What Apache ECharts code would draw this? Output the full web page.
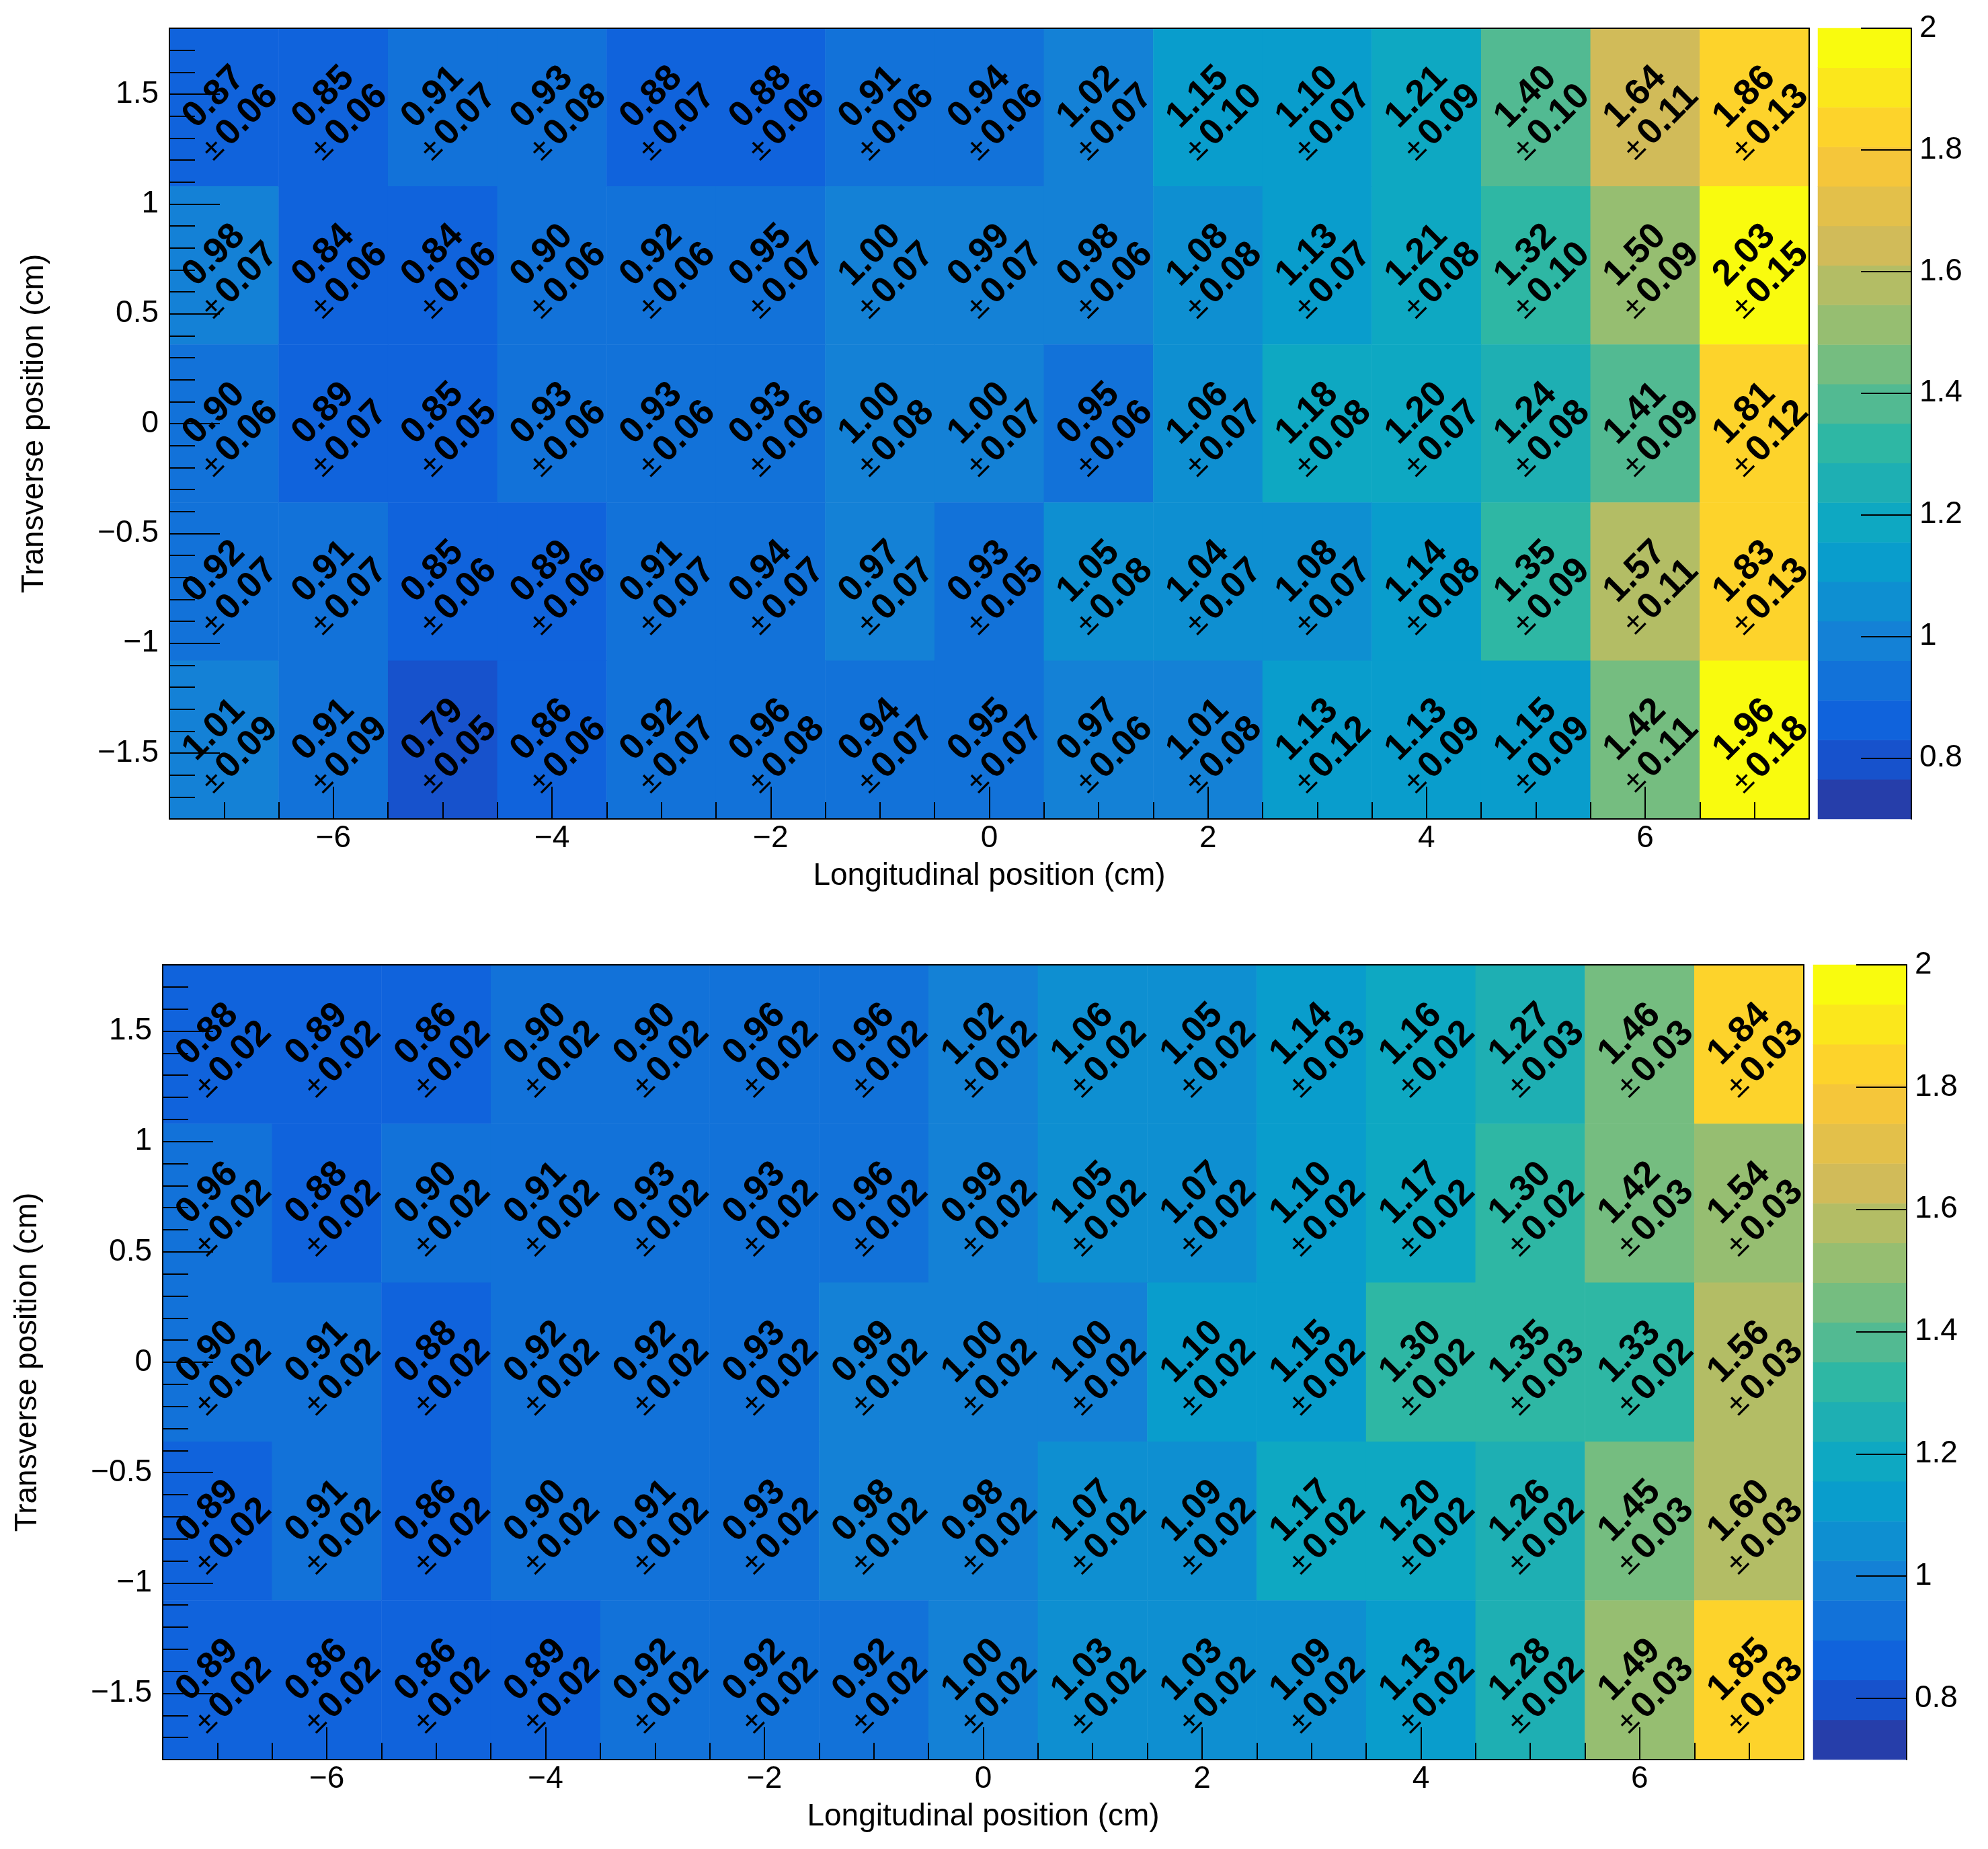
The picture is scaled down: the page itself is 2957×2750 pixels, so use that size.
<!DOCTYPE html>
<html>
<head>
<meta charset="utf-8">
<script src="https://cdn.jsdelivr.net/npm/echarts@6/dist/echarts.min.js"></script>
<style>
  html, body { margin: 0; padding: 0; background: #fff; }
  #chart { width: 2957px; height: 2750px; }
</style>
</head>
<body>
<div id="chart"></div>
<script>
// 网格：x -7.5..7.5 共15格，y -1.8..1.8 共5格
const xBins = ['-7', '-6', '-5', '-4', '-3', '-2', '-1', '0', '1', '2', '3', '4', '5', '6', '7'];
const yBins = ['-1.44', '-0.72', '0', '0.72', '1.44'];

// 上图 数值 / 误差（行从上到下：y=1.44 ... -1.44）
const topVal = [
    [0.87, 0.85, 0.91, 0.93, 0.88, 0.88, 0.91, 0.94, 1.02, 1.15, 1.10, 1.21, 1.40, 1.64, 1.86],
    [0.98, 0.84, 0.84, 0.90, 0.92, 0.95, 1.00, 0.99, 0.98, 1.08, 1.13, 1.21, 1.32, 1.50, 2.03],
    [0.90, 0.89, 0.85, 0.93, 0.93, 0.93, 1.00, 1.00, 0.95, 1.06, 1.18, 1.20, 1.24, 1.41, 1.81],
    [0.92, 0.91, 0.85, 0.89, 0.91, 0.94, 0.97, 0.93, 1.05, 1.04, 1.08, 1.14, 1.35, 1.57, 1.83],
    [1.01, 0.91, 0.79, 0.86, 0.92, 0.96, 0.94, 0.95, 0.97, 1.01, 1.13, 1.13, 1.15, 1.42, 1.96]
];
const topErr = [
    [0.06, 0.06, 0.07, 0.08, 0.07, 0.06, 0.06, 0.06, 0.07, 0.10, 0.07, 0.09, 0.10, 0.11, 0.13],
    [0.07, 0.06, 0.06, 0.06, 0.06, 0.07, 0.07, 0.07, 0.06, 0.08, 0.07, 0.08, 0.10, 0.09, 0.15],
    [0.06, 0.07, 0.05, 0.06, 0.06, 0.06, 0.08, 0.07, 0.06, 0.07, 0.08, 0.07, 0.08, 0.09, 0.12],
    [0.07, 0.07, 0.06, 0.06, 0.07, 0.07, 0.07, 0.05, 0.08, 0.07, 0.07, 0.08, 0.09, 0.11, 0.13],
    [0.09, 0.09, 0.05, 0.06, 0.07, 0.08, 0.07, 0.07, 0.06, 0.08, 0.12, 0.09, 0.09, 0.11, 0.18]
];
// 下图
const botVal = [
    [0.88, 0.89, 0.86, 0.90, 0.90, 0.96, 0.96, 1.02, 1.06, 1.05, 1.14, 1.16, 1.27, 1.46, 1.84],
    [0.96, 0.88, 0.90, 0.91, 0.93, 0.93, 0.96, 0.99, 1.05, 1.07, 1.10, 1.17, 1.30, 1.42, 1.54],
    [0.90, 0.91, 0.88, 0.92, 0.92, 0.93, 0.99, 1.00, 1.00, 1.10, 1.15, 1.30, 1.35, 1.33, 1.56],
    [0.89, 0.91, 0.86, 0.90, 0.91, 0.93, 0.98, 0.98, 1.07, 1.09, 1.17, 1.20, 1.26, 1.45, 1.60],
    [0.89, 0.86, 0.86, 0.89, 0.92, 0.92, 0.92, 1.00, 1.03, 1.03, 1.09, 1.13, 1.28, 1.49, 1.85]
];
const botErr = [
    [0.02, 0.02, 0.02, 0.02, 0.02, 0.02, 0.02, 0.02, 0.02, 0.02, 0.03, 0.02, 0.03, 0.03, 0.03],
    [0.02, 0.02, 0.02, 0.02, 0.02, 0.02, 0.02, 0.02, 0.02, 0.02, 0.02, 0.02, 0.02, 0.03, 0.03],
    [0.02, 0.02, 0.02, 0.02, 0.02, 0.02, 0.02, 0.02, 0.02, 0.02, 0.02, 0.02, 0.03, 0.02, 0.03],
    [0.02, 0.02, 0.02, 0.02, 0.02, 0.02, 0.02, 0.02, 0.02, 0.02, 0.02, 0.02, 0.02, 0.03, 0.03],
    [0.02, 0.02, 0.02, 0.02, 0.02, 0.02, 0.02, 0.02, 0.02, 0.02, 0.02, 0.02, 0.02, 0.03, 0.03]
];

const xMajorTicks = [-6, -4, -2, 0, 2, 4, 6];
const yMajorTicks = [-1.5, -1, -0.5, 0, 0.5, 1, 1.5];
const zTicks = [0.8, 1.0, 1.2, 1.4, 1.6, 1.8, 2.0];
const Z_MIN = 0.7, Z_MAX = 2.0, N_LEVELS = 20;

const xMinorTicks = [];
for (let i = 0; i <= 30; i++) xMinorTicks.push(-7.5 + i * 0.5);
const yMinorTicks = [];
for (let i = 0; i <= 36; i++) yMinorTicks.push(+(-1.8 + i * 0.1).toFixed(1));

// ROOT kBird 调色板
const birdStops = [0, 0.125, 0.25, 0.375, 0.5, 0.625, 0.75, 0.875, 1];
const birdR = [0.2082, 0.0592, 0.0780, 0.0232, 0.1802, 0.5301, 0.8186, 0.9956, 0.9764];
const birdG = [0.1664, 0.3599, 0.5041, 0.6419, 0.7178, 0.7492, 0.7328, 0.7862, 0.9832];
const birdB = [0.5293, 0.8684, 0.8385, 0.7914, 0.6425, 0.4662, 0.3499, 0.1968, 0.0539];
function bird(t) {
    let k = 0;
    while (k < 7 && t > birdStops[k + 1]) k++;
    const f = (t - birdStops[k]) / (birdStops[k + 1] - birdStops[k]);
    const c = a => Math.round(255 * (a[k] + f * (a[k + 1] - a[k])));
    return `rgb(${c(birdR)},${c(birdG)},${c(birdB)})`;
}
const step = (Z_MAX - Z_MIN) / N_LEVELS;
const pieces = [];
const levelIdx = [];
for (let i = 0; i < N_LEVELS; i++) {
    const pc = { lte: i === N_LEVELS - 1 ? 99 : Z_MIN + (i + 1) * step + 1e-6, color: bird(Math.min(1, (i + 1) / N_LEVELS)) };
    if (i > 0) pc.gt = Z_MIN + i * step + 1e-6; else pc.gte = -99;
    pieces.push(pc);
    levelIdx.push(String(i));
}

const FONT = 'Liberation Sans';
const layouts = [
    { plot: { left: 252, top: 42, width: 2439, height: 1176 }, bar: { left: 2704, top: 42, width: 139, height: 1176 } },
    { plot: { left: 242, top: 1435, width: 2441, height: 1182 }, bar: { left: 2697, top: 1435, width: 139, height: 1182 } }
];

const grid = [], xAxis = [], yAxis = [], series = [];
const hidden = { show: false };
const noLine = { show: false, onZero: false };
const blackLine = { show: true, onZero: false, lineStyle: { color: '#000', width: 2 } };

function cellData(vals, errs) {
    const out = [];
    vals.forEach((row, r) => row.forEach((v, c) => out.push([c, 4 - r, v, errs[r][c]])));
    return out;
}
const minus = v => String(v).replace('-', '\u2212');

[[topVal, topErr], [botVal, botErr]].forEach(([vals, errs], p) => {
    const g = grid.length;
    grid.push(layouts[p].plot, layouts[p].bar);
    const xb = xAxis.length, yb = yAxis.length;
    // 热图用的类目轴
    xAxis.push({ type: 'category', gridIndex: g, data: xBins, axisLine: noLine, axisTick: hidden, axisLabel: hidden, splitLine: hidden });
    yAxis.push({ type: 'category', gridIndex: g, data: yBins, axisLine: noLine, axisTick: hidden, axisLabel: hidden, splitLine: hidden });
    // 主刻度
    xAxis.push({
        type: 'value', gridIndex: g, min: -7.5, max: 7.5, position: 'bottom', z: 10,
        name: 'Longitudinal position (cm)', nameLocation: 'middle', nameGap: 62,
        nameTextStyle: { fontFamily: FONT, fontSize: 46, color: '#000' },
        axisLine: blackLine,
        axisTick: { show: true, inside: true, length: 48, customValues: xMajorTicks, lineStyle: { color: '#000', width: 2 } },
        axisLabel: { customValues: xMajorTicks, margin: 6, fontFamily: FONT, fontSize: 46, color: '#000', formatter: minus },
        splitLine: hidden
    });
    yAxis.push({
        type: 'value', gridIndex: g, min: -1.8, max: 1.8, position: 'left', z: 10,
        name: 'Transverse position (cm)', nameLocation: 'middle', nameGap: 178,
        nameTextStyle: { fontFamily: FONT, fontSize: 46, color: '#000' },
        axisLine: blackLine,
        axisTick: { show: true, inside: true, length: 75, customValues: yMajorTicks, lineStyle: { color: '#000', width: 2 } },
        axisLabel: { customValues: yMajorTicks, margin: 16, fontFamily: FONT, fontSize: 46, color: '#000', formatter: minus },
        splitLine: hidden
    });
    // 次刻度
    xAxis.push({ type: 'value', gridIndex: g, min: -7.5, max: 7.5, position: 'bottom', z: 10, axisLine: noLine, axisLabel: hidden, splitLine: hidden,
        axisTick: { show: true, inside: true, length: 25, customValues: xMinorTicks, lineStyle: { color: '#000', width: 2 } } });
    yAxis.push({ type: 'value', gridIndex: g, min: -1.8, max: 1.8, position: 'left', z: 10, axisLine: noLine, axisLabel: hidden, splitLine: hidden,
        axisTick: { show: true, inside: true, length: 38, customValues: yMinorTicks, lineStyle: { color: '#000', width: 2 } } });
    // 边框
    xAxis.push({ type: 'value', gridIndex: g, min: 0, max: 1, position: 'top', z: 10, axisLine: blackLine, axisTick: hidden, axisLabel: hidden, splitLine: hidden });
    yAxis.push({ type: 'value', gridIndex: g, min: 0, max: 1, position: 'right', z: 10, axisLine: blackLine, axisTick: hidden, axisLabel: hidden, splitLine: hidden });

    series.push({
        type: 'heatmap', xAxisIndex: xb, yAxisIndex: yb,
        data: cellData(vals, errs),
        label: {
            show: true, rotate: 45, color: '#000', offset: [0, 6],
            formatter: p => `{v|${p.value[2].toFixed(2)}}\n{pm|\u00b1}  {v|${p.value[3].toFixed(2)}}`,
            rich: {
                v: { fontFamily: FONT, fontWeight: 'bold', fontSize: 54, color: '#000', lineHeight: 54 },
                pm: { fontFamily: FONT, fontSize: 46, color: '#000', lineHeight: 54 }
            }
        },
        emphasis: { disabled: true }
    });

    // 色标
    const cx = xAxis.length, cy = yAxis.length;
    xAxis.push({ type: 'category', gridIndex: g + 1, data: ['z'], axisLine: noLine, axisTick: hidden, axisLabel: hidden, splitLine: hidden });
    yAxis.push({ type: 'category', gridIndex: g + 1, data: levelIdx, axisLine: noLine, axisTick: hidden, axisLabel: hidden, splitLine: hidden });
    yAxis.push({
        type: 'value', gridIndex: g + 1, min: Z_MIN, max: Z_MAX, position: 'right', z: 10,
        axisLine: blackLine,
        axisTick: { show: true, inside: true, length: 75, customValues: zTicks, lineStyle: { color: '#000', width: 2 } },
        axisLabel: { customValues: zTicks, margin: 12, fontFamily: FONT, fontSize: 46, color: '#000',
            formatter: v => (Math.abs(v - Math.round(v)) < 1e-6 ? String(Math.round(v)) : v.toFixed(1)) },
        splitLine: hidden
    });
    series.push({
        type: 'heatmap', xAxisIndex: cx, yAxisIndex: cy,
        data: levelIdx.map((s, i) => [0, i, Z_MIN + (i + 0.5) * step, 0]),
        emphasis: { disabled: true }
    });
});

const chart = echarts.init(document.getElementById('chart'));
chart.setOption({
    animation: false,
    backgroundColor: '#fff',
    grid: grid,
    xAxis: xAxis,
    yAxis: yAxis,
    visualMap: { type: 'piecewise', show: false, dimension: 2, seriesIndex: [0, 1, 2, 3], pieces: pieces },
    series: series
});
</script>
</body>
</html>
